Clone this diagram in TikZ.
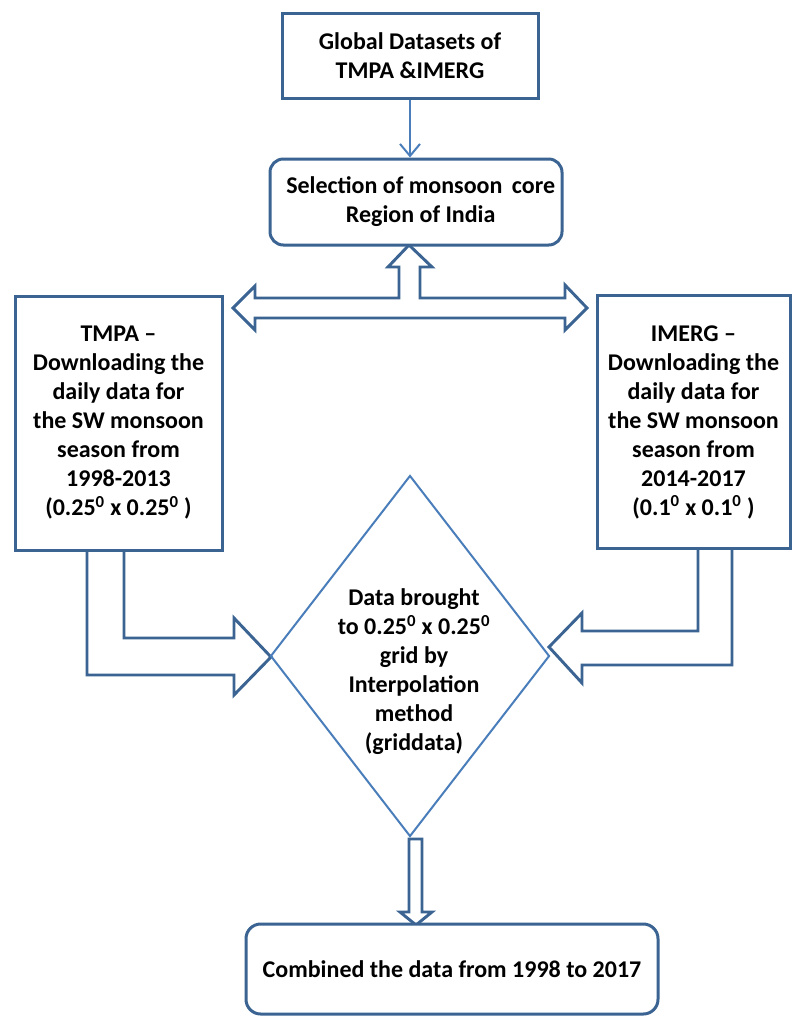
\documentclass[tikz,border=0pt]{standalone}
\usepackage{fontspec}
\setmainfont{Carlito}
\usetikzlibrary{arrows.meta,shapes.geometric}
\definecolor{boxblue}{HTML}{3B6493}
\definecolor{lineblue}{HTML}{4A7EBB}
\tikzset{
  txt/.style={font=\fontsize{18pt}{21.75pt}\selectfont\bfseries, align=center, text=black},
  sqbox/.style={txt, draw=boxblue, line width=2.25pt, fill=white, inner sep=0pt},
  rbox/.style={sqbox, rounded corners=10pt},
  hollow/.style={draw=boxblue, line width=2.2pt, fill=white, line join=miter},
  thinarrow/.style={draw=lineblue, line width=1.5pt, -{Straight Barb[length=9pt,width=15pt,line width=1.5pt]}},
  decision/.style={diamond, draw=lineblue, line width=1.5pt, inner sep=0pt, minimum width=209.25pt, minimum height=270.75pt}
}
\begin{document}
\begin{tikzpicture}[x=0.75pt,y=-0.75pt]
\useasboundingbox[fill=white] (0,0) rectangle (793,1018);

% hollow block arrows (drawn first, boxes cover their roots)
\draw[hollow] (409,245) -- (432,267) -- (420,267) -- (420,298) -- (565,298) -- (565,285) -- (587,308) -- (565,330) -- (565,318) -- (255,318) -- (255,330) -- (233,308) -- (255,286) -- (255,298) -- (399,298) -- (399,267) -- (388,267) -- cycle;
\draw[hollow] (87,547) -- (87,675) -- (234,675) -- (234,695) -- (271,657) -- (234,618) -- (234,638) -- (124,638) -- (124,547);
\draw[hollow] (732,547) -- (732,665) -- (582,665) -- (582,683) -- (549,647) -- (582,613) -- (582,631) -- (698,631) -- (698,547);
\draw[hollow] (409,839) -- (422,839) -- (422,912) -- (432,912) -- (416,925) -- (400,912) -- (409,912) -- cycle;

% boxes
\node[sqbox, minimum width=192pt, minimum height=63.75pt] (glob) at (410,55.5) {Global Datasets of\\TMPA \&IMERG};
\node[rbox, minimum width=219pt, minimum height=64.5pt] (sel) at (416,202) {\hspace*{7pt}Selection of monsoon\ \,core\\\hspace*{7pt}Region of India};
\node[sqbox, minimum width=155.25pt, minimum height=190.5pt] (tmpa) at (118.5,423) {TMPA --\\Downloading the\\daily data for\\the SW monsoon\\season from\\1998-2013\\(0.25\textsuperscript{0} x 0.25\textsuperscript{0} )};
\node[sqbox, minimum width=144.75pt, minimum height=189.75pt] (imerg) at (693.5,422) {IMERG --\\Downloading the\\daily data for\\the SW monsoon\\season from\\2014-2017\\(0.1\textsuperscript{0} x 0.1\textsuperscript{0} )};
\node[rbox, rounded corners=11pt, minimum width=309pt, minimum height=67.5pt] (comb) at (452,969) {Combined the data from 1998 to 2017};

% decision diamond
\node[decision] (interp) at (410,656) {};
\node[txt] (interptxt) at (414,672) {Data brought\\to 0.25\textsuperscript{0} x 0.25\textsuperscript{0}\\grid by\\Interpolation\\method\\(griddata)};

% thin connector
\draw[thinarrow] (glob.south) -- (glob.south |- sel.north);
\end{tikzpicture}
\end{document}
